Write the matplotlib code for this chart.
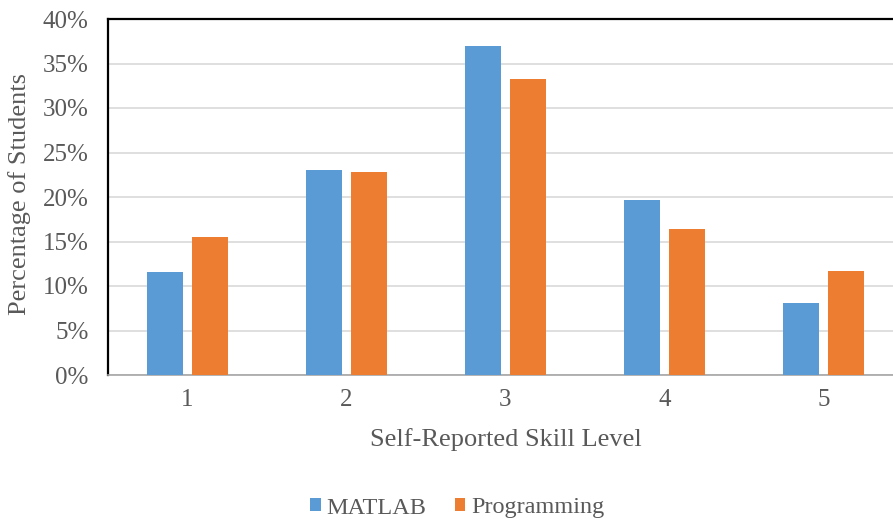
import numpy as np
import matplotlib
matplotlib.use("Agg")
import matplotlib.pyplot as plt

# ── Data ─────────────────────────────────────────────────────────────────────
skill_levels = ["1", "2", "3", "4", "5"]
matlab = [11.6, 23.0, 37.0, 19.7, 8.05]
programming = [15.5, 22.8, 33.3, 16.4, 11.65]
y_ticks = [0, 5, 10, 15, 20, 25, 30, 35, 40]

# ── Style ────────────────────────────────────────────────────────────────────
plt.rcParams["font.family"] = ["Liberation Serif", "DejaVu Serif"]
TEXT = "#595959"
BLUE = "#5B9BD5"
ORANGE = "#ED7D31"

fig = plt.figure(figsize=(8.93, 5.23), dpi=100)
ax = fig.add_axes([108 / 893, 1 - 375 / 523, 795 / 893, 356 / 523])

x = np.arange(len(skill_levels))
width = 0.226
offset = 0.1415
ax.bar(x - offset, matlab, width, color=BLUE, label="MATLAB", zorder=3)
ax.bar(x + offset, programming, width, color=ORANGE, label="Programming", zorder=3)

ax.set_xlim(-0.5, len(skill_levels) - 0.5)
ax.set_ylim(0, 40)
ax.set_yticks(y_ticks)
ax.set_yticklabels([f"{t}%" for t in y_ticks])
ax.set_xticks(x)
ax.set_xticklabels(skill_levels)
ax.tick_params(axis="both", length=0, labelsize=18, colors=TEXT)
ax.tick_params(axis="x", pad=10)
ax.tick_params(axis="y", pad=14)

ax.grid(axis="y", color="#d9d9d9", linewidth=1.2, zorder=0)
ax.set_axisbelow(True)

for side in ["left", "top"]:
    ax.spines[side].set_color("black")
    ax.spines[side].set_linewidth(1.6)
ax.spines["bottom"].set_color("#a6a6a6")
ax.spines["bottom"].set_linewidth(1.2)
ax.spines["right"].set_visible(False)

ax.set_xlabel("Self-Reported Skill Level", fontsize=19, color=TEXT, labelpad=12)
fig.text(20 / 893, 1 - 194 / 523, "Percentage of Students", fontsize=19,
         color=TEXT, rotation=90, ha="center", va="center")

fig.legend(loc="center", bbox_to_anchor=(0.512, 1 - 508 / 523), ncol=2,
           frameon=False, fontsize=17.5, handlelength=0.45, handleheight=0.45,
           handletextpad=0.25, columnspacing=1.15, labelcolor=TEXT)

fig.savefig("out.png", dpi=100)
